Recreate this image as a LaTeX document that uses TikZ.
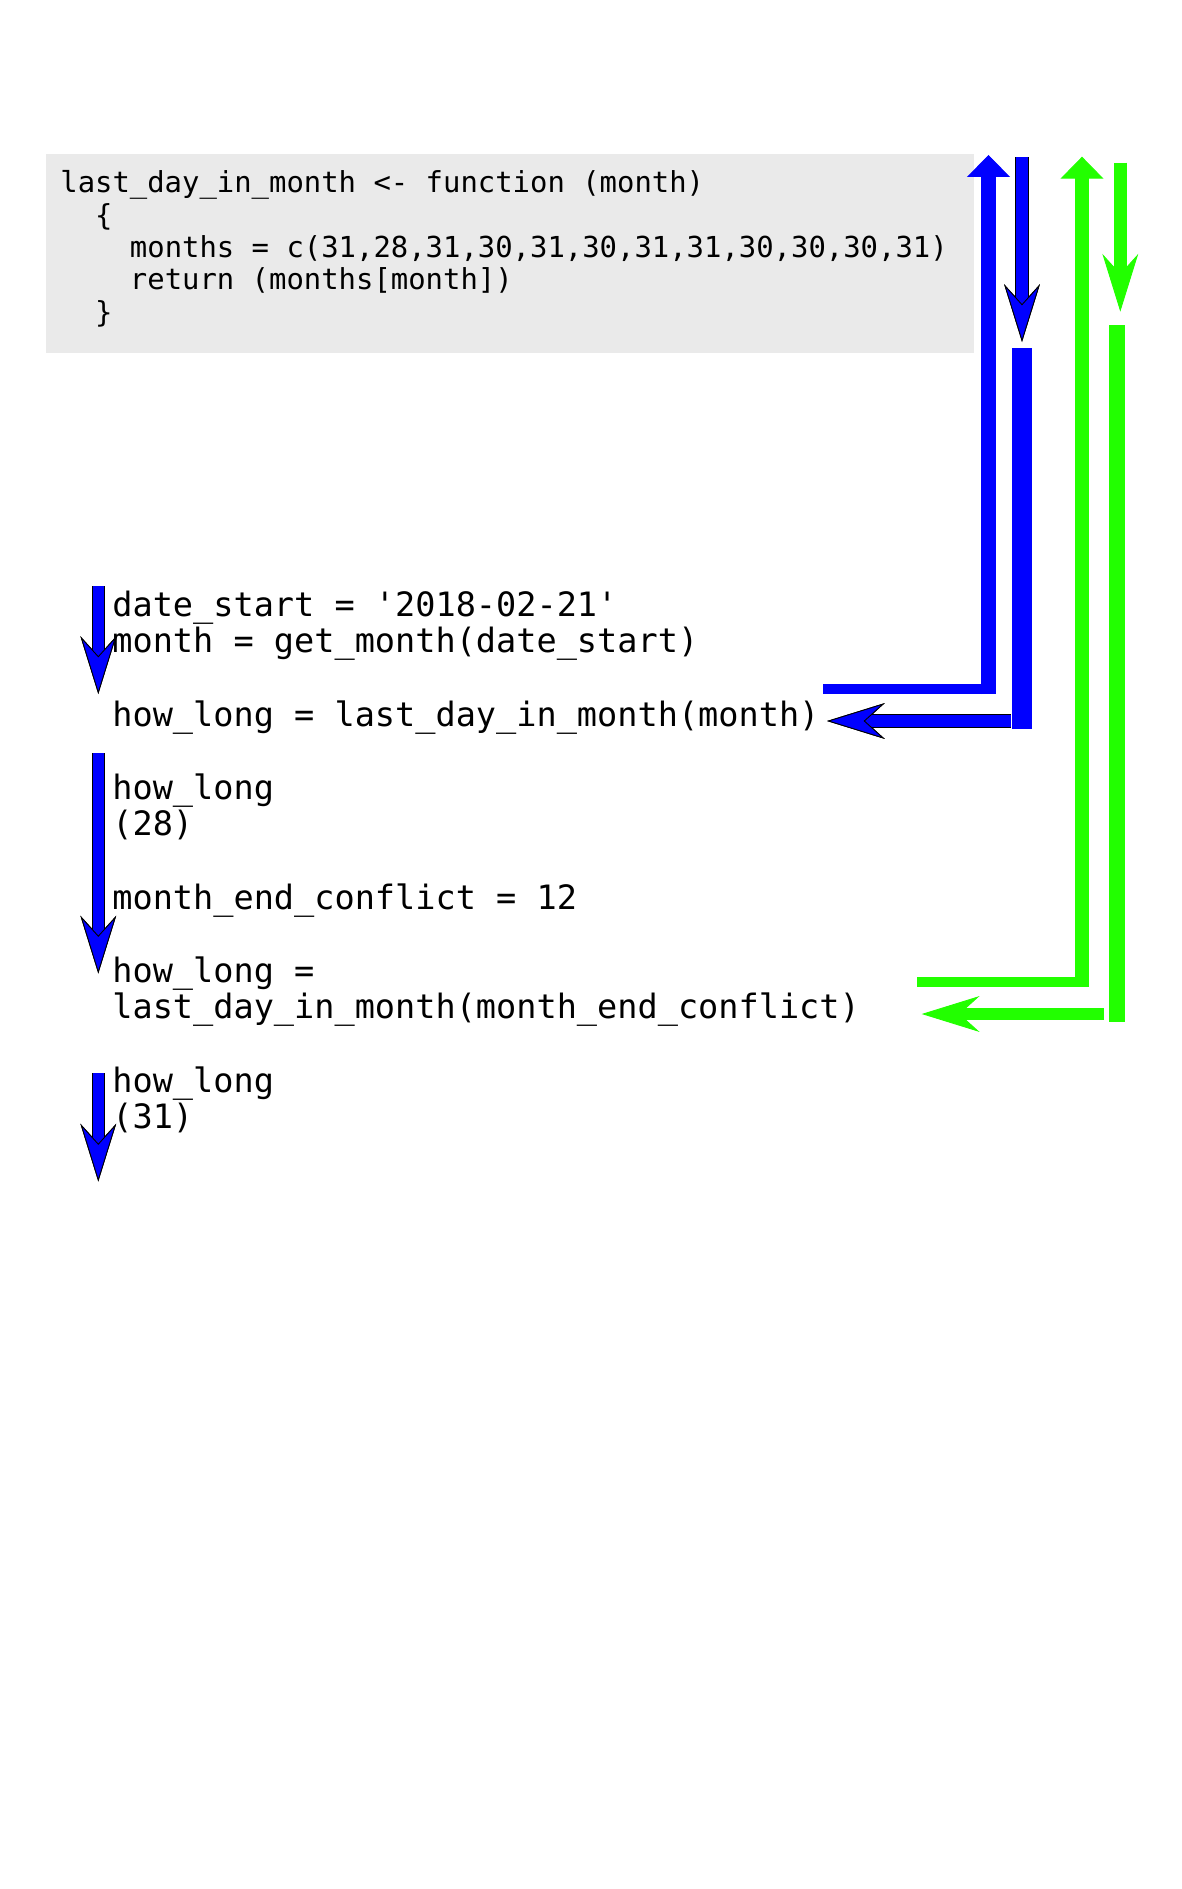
\documentclass[tikz,border=0pt]{standalone}
\usepackage{fontspec}
\usetikzlibrary{arrows.meta}
\newfontfamily\codefont{DejaVu Sans Mono}
\definecolor{flowblue}{RGB}{0,0,255}
\definecolor{flowgreen}{RGB}{34,255,0}
\definecolor{codegray}{RGB}{234,234,234}
\tikzset{
  codeline/.style={anchor=base west, inner sep=0pt, font=\codefont\fontsize{16.45}{18}\selectfont},
  mainline/.style={anchor=base west, inner sep=0pt, font=\codefont\fontsize{19.1}{21}\selectfont},
  blueflow/.style={flowblue, line width=6.6pt, preaction={draw=black, line width=7.5pt},
    -{Stealth[length=32.9pt, width=20.4pt, inset=11.3pt, line width=0.5pt, color=black, fill=flowblue]}},
  greenflow/.style={flowgreen, line width=#1,
    -{Stealth[length=32.9pt, width=20.4pt, inset=11.3pt, line width=0.5pt]}},
  callbar/.style={line width=5.7pt},
  callrail/.style={line width=8.3pt, -{Triangle[length=12.5pt, width=24.4pt, line width=0.5pt]}}
}
\begin{document}
\begin{tikzpicture}[x=0.02cm, y=-0.02cm]
\useasboundingbox (0,0) rectangle (1181,1889);

% the function
\node[fill=codegray, inner sep=0pt, minimum width=18.57cm, minimum height=3.98cm] (codebox) at (509.75,253.5) {};
\node[codeline] (fundef) at (60,193) {last\_day\_in\_month <- function (month)};
\node[codeline] (fopen) at (60,225.3) {\phantom{xx}\{};
\node[codeline] (fmonths) at (60,257.6) {\phantom{xxxx}months = c(31,28,31,30,31,30,31,31,30,30,30,31)};
\node[codeline] (freturn) at (60,289.9) {\phantom{xxxx}return (months[month])};
\node[codeline] (fclose) at (60,322.2) {\phantom{xx}\}};

% the calling code
\node[mainline] (datestart) at (112,616.3) {date\_start = \textquotesingle 2018-02-21\textquotesingle};
\node[mainline] (getmonth) at (112,652.9) {month = get\_month(date\_start)};
\node[mainline] (callone) at (112,726.1) {how\_long = last\_day\_in\_month(month)};
\node[mainline] (resone) at (112,799.3) {how\_long};
\node[mainline] (valone) at (112,835.9) {(28)};
\node[mainline] (conflict) at (112,909.1) {month\_end\_conflict = 12};
\node[mainline] (calltwo) at (112,982.3) {how\_long =};
\node[mainline] (calltwoarg) at (112,1018.9) {last\_day\_in\_month(month\_end\_conflict)};
\node[mainline] (restwo) at (112,1092.1) {how\_long};
\node[mainline] (valtwo) at (112,1128.7) {(31)};

% flow down the left side
\coordinate (stepone) at (98.3,586);
\coordinate (steponeend) at (98.3,694);
\coordinate (steptwo) at (98.3,753);
\coordinate (steptwoend) at (98.3,973.5);
\coordinate (stepthree) at (98.3,1073);
\coordinate (stepthreeend) at (98.3,1181.5);
\draw[blueflow] (stepone) -- (steponeend);
\draw[blueflow] (steptwo) -- (steptwoend);
\draw[blueflow] (stepthree) -- (stepthreeend);

% first call, blue
\coordinate (bluefrom) at (823,689);
\coordinate (bluecorner) at (996,689);
\coordinate (bluefoot) at (988.5,694);
\coordinate (bluein) at (988.5,155);
\draw[callbar, flowblue] (bluefrom) -- (bluecorner);
\draw[callrail, flowblue] (bluefoot) -- (bluein);

\coordinate (blueout) at (1022,157);
\coordinate (blueoutend) at (1022,342);
\coordinate (bluerailtop) at (1022,348);
\coordinate (bluerailfoot) at (1022,729);
\coordinate (blueback) at (1011,721);
\coordinate (bluebackend) at (827,721);
\draw[blueflow] (blueout) -- (blueoutend);
\draw[flowblue, line width=11.3pt] (bluerailtop) -- (bluerailfoot);
\draw[blueflow] (blueback) -- (bluebackend);

% second call, green
\coordinate (greenfrom) at (917,981.7);
\coordinate (greencorner) at (1089,981.7);
\coordinate (greenfoot) at (1082,986.7);
\coordinate (greenin) at (1082,156.7);
\draw[callbar, flowgreen] (greenfrom) -- (greencorner);
\draw[callrail, flowgreen] (greenfoot) -- (greenin);

\coordinate (greenout) at (1120.3,162.7);
\coordinate (greenoutend) at (1120.3,311.7);
\coordinate (greenrailtop) at (1117,325);
\coordinate (greenrailfoot) at (1117,1021.7);
\coordinate (greenback) at (1104,1014);
\coordinate (greenbackend) at (921.7,1014);
\draw[greenflow=7.2pt] (greenout) -- (greenoutend);
\draw[flowgreen, line width=9.1pt] (greenrailtop) -- (greenrailfoot);
\draw[greenflow=6.8pt] (greenback) -- (greenbackend);
\end{tikzpicture}
\end{document}
